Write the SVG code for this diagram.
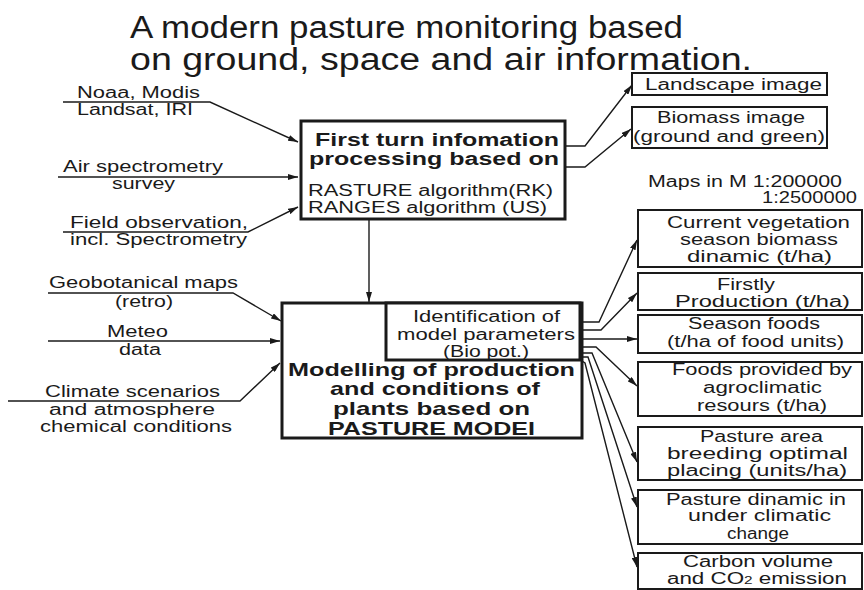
<svg xmlns="http://www.w3.org/2000/svg" width="864" height="590" viewBox="0 0 864 590">
  <style>
    text { font-family: "Liberation Sans", Arial, sans-serif; fill: #1a1a1a; }
    .title { font-size: 31px; }
    .lbl { font-size: 16px; }
    .bold { font-weight: bold; }
    .b1 { font-size: 17.5px; }
    .b2 { font-size: 19px; }
    .thick { fill: #fff; stroke: #1a1a1a; stroke-width: 3; }
    .box { fill: #fff; stroke: #1a1a1a; stroke-width: 2; }
    .wire { fill: none; stroke: #1a1a1a; stroke-width: 1.4; }
    .arr { marker-end: url(#ah); }
  </style>
  <defs>
    <marker id="ah" viewBox="0 0 10 6" markerWidth="10" markerHeight="6" refX="10" refY="3" markerUnits="userSpaceOnUse" orient="auto">
      <path d="M0,0 L10,3 L0,6 z" fill="#1a1a1a"/>
    </marker>
  </defs>

  <rect width="864" height="590" fill="#fff"/>

  <g id="title">
    <text class="title" x="130" y="38" textLength="553" lengthAdjust="spacingAndGlyphs">A modern pasture monitoring based</text>
    <text class="title" x="130" y="70" textLength="622" lengthAdjust="spacingAndGlyphs">on ground, space and air information.</text>
  </g>

  <g id="connectors">
    <!-- sources into the first-turn processing box -->
    <path class="wire arr" d="M63,102 H210 L298,142"/>
    <path class="wire arr" d="M58,177 H298"/>
    <path class="wire arr" d="M63,232 H248 L298,207"/>
    <!-- processing box outputs -->
    <path class="wire arr" d="M566,146 H585 L632,85"/>
    <path class="wire arr" d="M566,167 H585 L631,129"/>
    <path class="wire arr" d="M369,220 V302"/>
    <!-- sources into the modelling box -->
    <path class="wire arr" d="M48,293 H233 L281,321"/>
    <path class="wire arr" d="M48,341 H280"/>
    <path class="wire arr" d="M8,401 H240 L280,363"/>
    <!-- model outputs -->
    <path class="wire arr" d="M582,322 H599 L637,240"/>
    <path class="wire arr" d="M582,330 H601 L637,293"/>
    <path class="wire arr" d="M582,339 H637"/>
    <path class="wire arr" d="M582,347 H596 L637,386"/>
    <path class="wire arr" d="M582,353 H592 L637,462"/>
    <path class="wire arr" d="M582,357 H588 L637,507"/>
    <path class="wire arr" d="M582,361 L585,363 L637,567"/>
  </g>

  <g id="src-satellite">
    <text class="lbl" x="77" y="98" textLength="123" lengthAdjust="spacingAndGlyphs">Noaa, Modis</text>
    <text class="lbl" x="77" y="115" textLength="116" lengthAdjust="spacingAndGlyphs">Landsat, IRI</text>
  </g>
  <g id="src-air">
    <text class="lbl" x="63" y="172" textLength="160" lengthAdjust="spacingAndGlyphs">Air spectrometry</text>
    <text class="lbl" x="112" y="189" textLength="63" lengthAdjust="spacingAndGlyphs">survey</text>
  </g>
  <g id="src-field">
    <text class="lbl" x="70" y="228" textLength="178" lengthAdjust="spacingAndGlyphs">Field observation,</text>
    <text class="lbl" x="70" y="245" textLength="177" lengthAdjust="spacingAndGlyphs">incl. Spectrometry</text>
  </g>

  <g id="first-turn">
    <rect class="thick" x="301" y="121" width="264" height="98"/>
    <text class="bold b1" x="315" y="146" textLength="244" lengthAdjust="spacingAndGlyphs">First turn infomation</text>
    <text class="bold b1" x="309" y="165" textLength="250" lengthAdjust="spacingAndGlyphs">processing based on</text>
    <text class="lbl" x="308" y="196" textLength="245" lengthAdjust="spacingAndGlyphs">RASTURE algorithm(RK)</text>
    <text class="lbl" x="308" y="213" textLength="239" lengthAdjust="spacingAndGlyphs">RANGES algorithm (US)</text>
  </g>

  <g id="landscape">
    <rect class="box" x="632" y="73" width="195" height="22"/>
    <text class="lbl" x="645" y="90" textLength="177" lengthAdjust="spacingAndGlyphs">Landscape image</text>
  </g>
  <g id="biomass">
    <rect class="box" x="632" y="107" width="195" height="41"/>
    <text class="lbl" x="657" y="123" textLength="148" lengthAdjust="spacingAndGlyphs">Biomass image</text>
    <text class="lbl" x="633" y="142" textLength="192" lengthAdjust="spacingAndGlyphs">(ground and green)</text>
  </g>

  <g id="maps-scale">
    <text class="lbl" x="648" y="187" textLength="194" lengthAdjust="spacingAndGlyphs">Maps in M 1:200000</text>
    <text class="lbl" x="762" y="203" textLength="95" lengthAdjust="spacingAndGlyphs">1:2500000</text>
  </g>

  <g id="src-geobotanical">
    <text class="lbl" x="49" y="288" textLength="189" lengthAdjust="spacingAndGlyphs">Geobotanical maps</text>
    <text class="lbl" x="115" y="307" textLength="58" lengthAdjust="spacingAndGlyphs">(retro)</text>
  </g>
  <g id="src-meteo">
    <text class="lbl" x="107" y="337" textLength="61" lengthAdjust="spacingAndGlyphs">Meteo</text>
    <text class="lbl" x="119" y="355" textLength="42" lengthAdjust="spacingAndGlyphs">data</text>
  </g>
  <g id="src-climate">
    <text class="lbl" x="45" y="397" textLength="175" lengthAdjust="spacingAndGlyphs">Climate scenarios</text>
    <text class="lbl" x="49" y="415" textLength="166" lengthAdjust="spacingAndGlyphs">and  atmosphere</text>
    <text class="lbl" x="40" y="432" textLength="192" lengthAdjust="spacingAndGlyphs">chemical conditions</text>
  </g>

  <g id="modelling">
    <rect class="thick" x="282" y="303" width="300" height="135"/>
    <text class="bold b2" x="288" y="376" textLength="287" lengthAdjust="spacingAndGlyphs">Modelling of production</text>
    <text class="bold b2" x="330" y="395" textLength="210" lengthAdjust="spacingAndGlyphs">and conditions of</text>
    <text class="bold b2" x="333" y="415" textLength="197" lengthAdjust="spacingAndGlyphs">plants  based on</text>
    <text class="bold b2" x="328" y="435" textLength="207" lengthAdjust="spacingAndGlyphs">PASTURE MODEI</text>
  </g>
  <g id="identification">
    <rect class="thick" x="386" y="303" width="194" height="57"/>
    <text class="lbl" x="413" y="322" textLength="147" lengthAdjust="spacingAndGlyphs">Identification of</text>
    <text class="lbl" x="397" y="340" textLength="178" lengthAdjust="spacingAndGlyphs">model parameters</text>
    <text class="lbl" x="443" y="357" textLength="86" lengthAdjust="spacingAndGlyphs">(Bio pot.)</text>
  </g>

  <g id="out-vegetation">
    <rect class="box" x="638" y="210" width="224" height="57"/>
    <text class="lbl" x="667" y="228" textLength="183" lengthAdjust="spacingAndGlyphs">Current vegetation</text>
    <text class="lbl" x="680" y="245" textLength="158" lengthAdjust="spacingAndGlyphs">season biomass</text>
    <text class="lbl" x="687" y="262" textLength="145" lengthAdjust="spacingAndGlyphs">dinamic (t/ha)</text>
  </g>
  <g id="out-production">
    <rect class="box" x="638" y="273" width="224" height="37"/>
    <text class="lbl" x="717" y="290" textLength="58" lengthAdjust="spacingAndGlyphs">Firstly</text>
    <text class="lbl" x="675" y="307" textLength="175" lengthAdjust="spacingAndGlyphs">Production (t/ha)</text>
  </g>
  <g id="out-season-foods">
    <rect class="box" x="638" y="315" width="224" height="38"/>
    <text class="lbl" x="688" y="329" textLength="132" lengthAdjust="spacingAndGlyphs">Season foods</text>
    <text class="lbl" x="667" y="347" textLength="177" lengthAdjust="spacingAndGlyphs">(t/ha of food units)</text>
  </g>
  <g id="out-agroclimatic">
    <rect class="box" x="638" y="362" width="224" height="54"/>
    <text class="lbl" x="672" y="375" textLength="180" lengthAdjust="spacingAndGlyphs">Foods provided by</text>
    <text class="lbl" x="703" y="393" textLength="119" lengthAdjust="spacingAndGlyphs">agroclimatic</text>
    <text class="lbl" x="697" y="411" textLength="130" lengthAdjust="spacingAndGlyphs">resours (t/ha)</text>
  </g>
  <g id="out-breeding">
    <rect class="box" x="638" y="427" width="224" height="53"/>
    <text class="lbl" x="700" y="442" textLength="123" lengthAdjust="spacingAndGlyphs">Pasture area</text>
    <text class="lbl" x="667" y="459" textLength="181" lengthAdjust="spacingAndGlyphs">breeding  optimal</text>
    <text class="lbl" x="667" y="476" textLength="180" lengthAdjust="spacingAndGlyphs">placing (units/ha)</text>
  </g>
  <g id="out-climate-change">
    <rect class="box" x="638" y="490" width="224" height="54"/>
    <text class="lbl" x="666" y="505" textLength="180" lengthAdjust="spacingAndGlyphs">Pasture dinamic in</text>
    <text class="lbl" x="688" y="521" textLength="143" lengthAdjust="spacingAndGlyphs">under  climatic</text>
    <text class="lbl" x="727" y="539" textLength="62" lengthAdjust="spacingAndGlyphs">change</text>
  </g>
  <g id="out-carbon">
    <rect class="box" x="638" y="553" width="224" height="36"/>
    <text class="lbl" x="683" y="567" textLength="150" lengthAdjust="spacingAndGlyphs">Carbon volume</text>
    <text class="lbl" x="667" y="584" textLength="180" lengthAdjust="spacingAndGlyphs">and  CO<tspan font-size="11px">2</tspan> emission</text>
  </g>
</svg>
